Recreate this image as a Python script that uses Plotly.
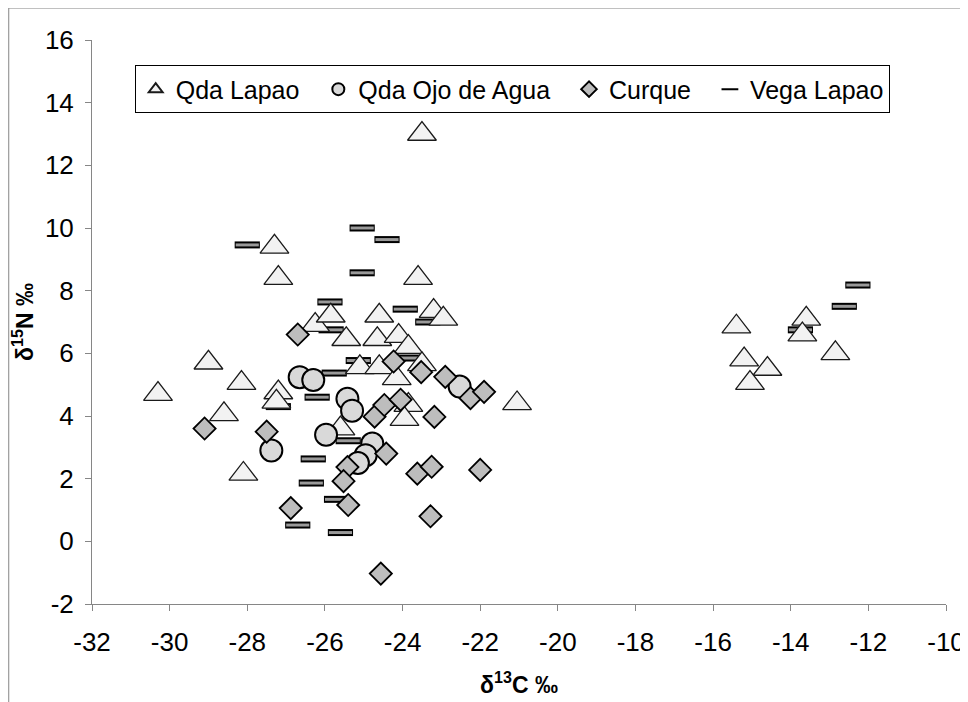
import plotly.graph_objects as go

# Qda Lapao (triangles)
lapao_x = [-30.3, -29.0, -28.6, -28.15, -28.1, -27.3, -27.2, -27.2, -27.25, -26.25, -25.85, -25.45,
           -24.6, -24.65, -24.1, -23.85, -23.6, -23.5, -23.2, -22.95, -25.1, -24.6, -24.15, -23.85,
           -23.95, -23.5, -25.6, -21.05, -15.4, -15.2, -14.6, -15.05, -13.6, -13.7, -12.85]
lapao_y = [4.7, 5.7, 4.05, 5.05, 2.15, 9.4, 8.4, 4.75, 4.45, 6.9, 7.2, 6.45,
           7.2, 6.45, 6.55, 6.2, 8.4, 13.0, 7.35, 7.1, 5.55, 5.55, 5.2, 4.35,
           3.9, 5.65, 3.6, 4.4, 6.85, 5.8, 5.5, 5.05, 7.1, 6.6, 6.0]

# Qda Ojo de Agua (circles)
ojo_x = [-26.65, -26.3, -25.42, -25.3, -25.97, -27.38, -24.78, -24.95, -25.15, -22.53]
ojo_y = [5.24, 5.15, 4.55, 4.17, 3.4, 2.9, 3.12, 2.75, 2.5, 4.94]

# Curque (diamonds)
curque_x = [-29.1, -27.5, -26.7, -26.88, -24.56, -25.42, -25.52, -25.4, -24.72, -24.47, -24.42,
            -24.23, -24.05, -23.52, -22.9, -22.25, -21.9, -23.62, -23.25, -23.18, -23.28, -22.0]
curque_y = [3.6, 3.5, 6.6, 1.06, -1.03, 2.37, 1.92, 1.16, 3.98, 4.35, 2.8,
            5.74, 4.52, 5.4, 5.25, 4.57, 4.77, 2.16, 2.38, 3.97, 0.8, 2.28]

# Vega Lapao (dashes)
vega_x = [-28.0, -25.04, -24.4, -25.04, -25.87, -23.93, -23.35, -25.84, -25.14, -25.76, -23.85,
          -26.2, -27.2, -25.4, -26.3, -26.35, -25.7, -26.7, -25.6, -13.75, -12.62, -12.27]
vega_y = [9.46, 10.0, 9.63, 8.57, 7.64, 7.41, 7.0, 6.75, 5.77, 5.37, 5.85,
          4.6, 4.3, 3.21, 2.63, 1.86, 1.34, 0.52, 0.28, 6.75, 7.5, 8.18]

x_ticks = [-32, -30, -28, -26, -24, -22, -20, -18, -16, -14, -12, -10]
y_ticks = [-2, 0, 2, 4, 6, 8, 10, 12, 14, 16]

FONT = "Liberation Sans Narrow, Liberation Sans, Arial, sans-serif"
TFONT = "Liberation Sans, Arial, sans-serif"
PAD = "\u00a0\u00a0"

fig = go.Figure()

# Vega Lapao drawn first (bottom layer): black outline then grey core
fig.add_trace(go.Scatter(
    x=vega_x, y=vega_y, mode="markers", name="Vega Lapao", legendrank=4,
    marker=dict(symbol="line-ew", size=18, line=dict(color="#000000", width=7)),
))
fig.add_trace(go.Scatter(
    x=vega_x, y=vega_y, mode="markers", name="Vega Lapao", showlegend=False, hoverinfo="skip",
    marker=dict(symbol="line-ew", size=16.5, line=dict(color="#9a9a9a", width=3)),
))
fig.add_trace(go.Scatter(
    x=lapao_x, y=lapao_y, mode="markers", name="Qda Lapao" + PAD, legendrank=1,
    marker=dict(symbol="triangle-up", size=25, color="#f2f2f2",
                line=dict(color="#1a1a1a", width=1.3)),
))
fig.add_trace(go.Scatter(
    x=ojo_x, y=ojo_y, mode="markers", name="Qda Ojo de Agua" + PAD, legendrank=2,
    marker=dict(symbol="circle", size=22, color="#d9d9d9",
                line=dict(color="#000000", width=2)),
))
fig.add_trace(go.Scatter(
    x=curque_x, y=curque_y, mode="markers", name="Curque" + PAD, legendrank=3,
    marker=dict(symbol="diamond", size=17, color="#bdbdbd",
                line=dict(color="#000000", width=1.8)),
))

axis_common = dict(
    showgrid=False, zeroline=False, showline=True, linecolor="#868686", linewidth=1,
    ticks="outside", ticklen=6, tickcolor="#868686", tickwidth=1, automargin=False,
    tickfont=dict(family=FONT, size=26, color="#000000"), mirror=False,
)

fig.update_layout(
    width=960, height=694,
    margin=dict(l=84, r=22, t=32, b=98),
    paper_bgcolor="white", plot_bgcolor="white",
    font=dict(family=FONT, color="#000000"),
    xaxis=dict(range=[-32, -10], tickvals=x_ticks, ticktext=[str(v) for v in x_ticks],
               ticklabelstandoff=9,
               title=dict(text="<b>δ<sup>13</sup>C ‰</b>", font=dict(family=TFONT, size=23),
                          standoff=20),
               **axis_common),
    yaxis=dict(range=[-2, 16], tickvals=y_ticks, ticktext=[str(v) for v in y_ticks],
               ticklabelstandoff=6,
               title=dict(text="<b>δ<sup>15</sup>N ‰</b>", font=dict(family=TFONT, size=23),
                          standoff=6),
               **axis_common),
    legend=dict(
        orientation="h", x=0.05, y=0.955, xanchor="left", yanchor="top",
        bordercolor="#000000", borderwidth=1, bgcolor="white",
        font=dict(family=FONT, size=25, color="#000000"),
        itemsizing="constant", itemwidth=30, tracegroupgap=0,
    ),
    showlegend=True,
    shapes=[dict(type="rect", xref="paper", yref="paper",
                 x0=-0.0975, x1=1.0176, y0=-0.2, y1=1.0567,
                 line=dict(color="#868686", width=1), fillcolor="rgba(0,0,0,0)", layer="below")],
)

fig.write_html("out.html")
